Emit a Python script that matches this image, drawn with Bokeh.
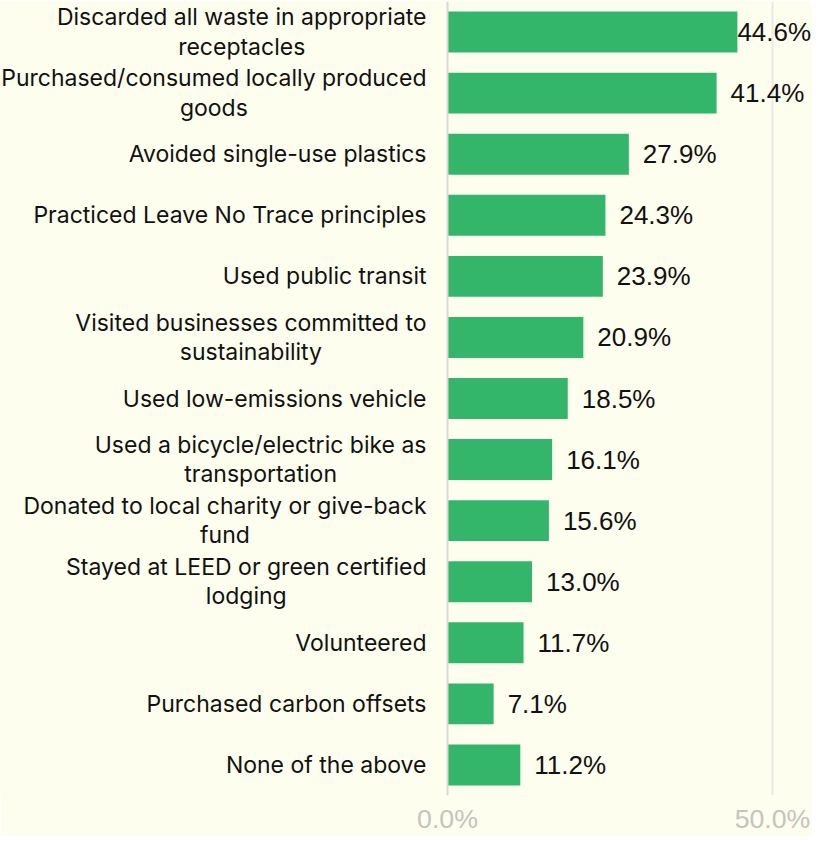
from bokeh.plotting import figure
from bokeh.models import ColumnDataSource, FactorRange, Range1d, FixedTicker, Span, CustomJSTickFormatter
from bokeh.embed import file_html
from bokeh.resources import INLINE
from bokeh.core.properties import value

categories = [
    "Discarded all waste in appropriate\nreceptacles",
    "Purchased/consumed locally produced\ngoods",
    "Avoided single-use plastics",
    "Practiced Leave No Trace principles",
    "Used public transit",
    "Visited businesses committed to\nsustainability",
    "Used low-emissions vehicle",
    "Used a bicycle/electric bike as\ntransportation",
    "Donated to local charity or give-back\nfund",
    "Stayed at LEED or green certified\nlodging",
    "Volunteered",
    "Purchased carbon offsets",
    "None of the above",
]
percentages = [44.6, 41.4, 27.9, 24.3, 23.9, 20.9, 18.5, 16.1, 15.6, 13.0, 11.7, 7.1, 11.2]
tick_values = [0, 50]

BG = "#fdfeee"
GREEN = "#33b66a"

labels = [f"{v:.1f}%" for v in percentages]
offsets = [14 if v < 43 else 0 for v in percentages]
zeros = [0] * len(percentages)

src = ColumnDataSource(dict(cat=categories, val=percentages, lab=labels, off=offsets, zero=zeros))

W, H = 812, 836
ZERO_PX = 447
PX_PER_UNIT = 6.5

p = figure(
    width=W, height=H,
    y_range=FactorRange(*reversed(categories), range_padding=0),
    x_range=Range1d(-ZERO_PX / PX_PER_UNIT, (W - ZERO_PX) / PX_PER_UNIT),
    min_border_left=0, min_border_right=0, min_border_top=1, min_border_bottom=0,
    output_backend="svg", toolbar_location=None,
    background_fill_color=BG, border_fill_color=BG,
)
p.outline_line_color = None
p.yaxis.visible = False

p.hbar(y="cat", right="val", left=0, height=0.67, source=src, color=GREEN, line_color=None)
p.text(x="val", y="cat", text="lab", x_offset="off", source=src,
       text_align="left", text_baseline="middle", text_font_size="26px",
       text_font=value("Liberation Sans"), text_color="#111111")
p.text(x="zero", y="cat", text="cat", x_offset=-21, source=src,
       anchor="center_right", text_align="center", text_baseline="middle",
       text_font_size="23px", text_font=value("Inter"), text_color="#111111",
       text_line_height=1.05)

p.xaxis.ticker = FixedTicker(ticks=tick_values)
p.xaxis.formatter = CustomJSTickFormatter(code="return tick.toFixed(1) + '%';")
p.xaxis.axis_line_color = None
p.xaxis.major_tick_line_color = None
p.xaxis.minor_tick_line_color = None
p.xaxis.major_tick_out = 0
p.xaxis.major_label_text_font = "Liberation Sans"
p.xaxis.major_label_text_font_size = "26.7px"
p.xaxis.major_label_text_color = "#c4c4c0"
p.xaxis.major_label_text_baseline = "middle"
p.xaxis.major_label_standoff = 8

p.ygrid.grid_line_color = None
p.xgrid.ticker = FixedTicker(ticks=[t for t in tick_values if t != 0])
p.xgrid.grid_line_color = "#e9e9e4"
p.xgrid.grid_line_width = 2

p.add_layout(Span(location=0, dimension="height", line_color="#d8d8d4", line_width=2))

open("out.html", "w").write(file_html(p, INLINE))
